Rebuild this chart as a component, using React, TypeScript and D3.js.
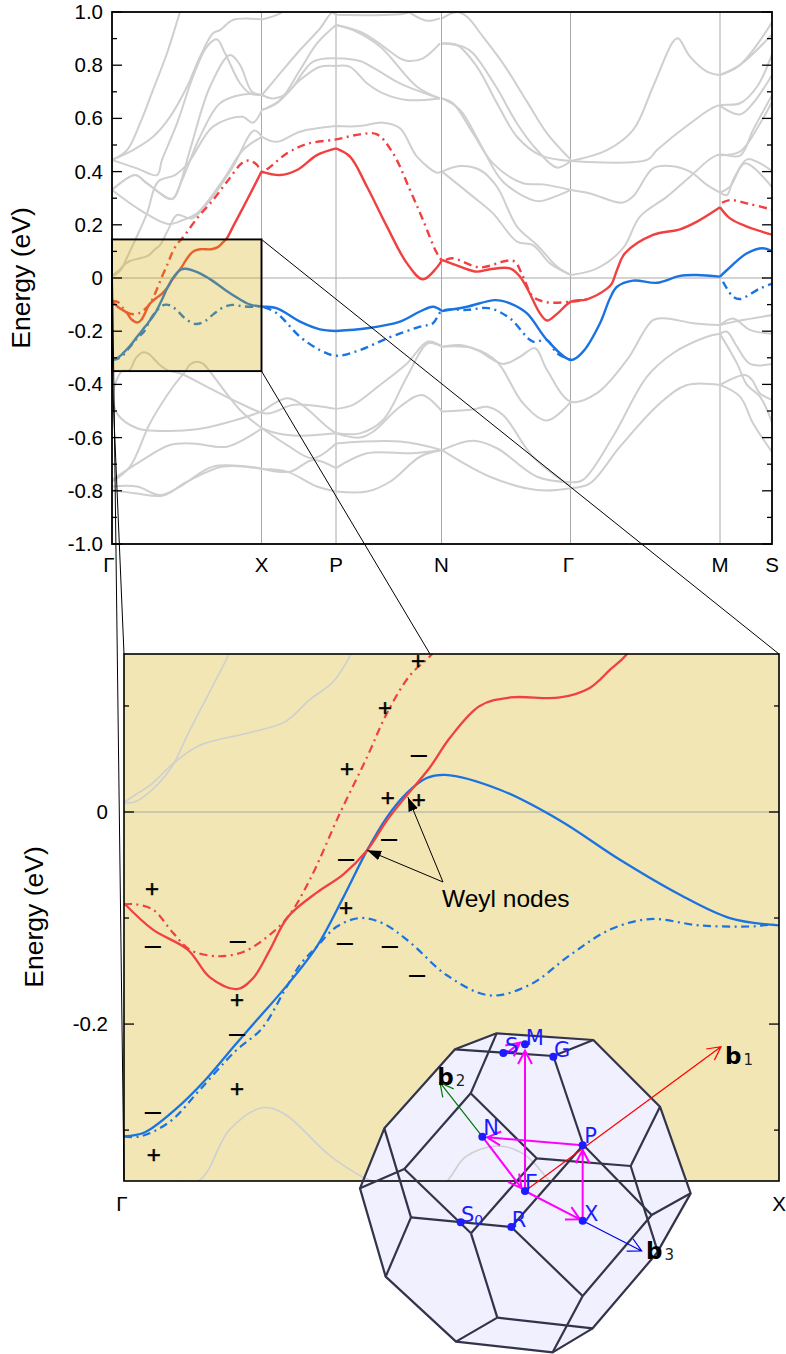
import React from "react";
import * as d3 from "d3";

type P = [number, number];

// high-symmetry points along the k-path (path length units) and labels
const kLabels = ["Γ", "X", "P", "N", "Γ", "M", "S"];
const kTicks = [0, 149.5, 224, 329.5, 458.5, 608, 660];
const kinkK = [149.5, 224, 329.5, 608];
const majorE = [1, 0.8, 0.6, 0.4, 0.2, 0, -0.2, -0.4, -0.6, -0.8, -1];
const minorE = [0.9, 0.7, 0.5, 0.3, 0.1, -0.1, -0.3, -0.5, -0.7, -0.9];
const zoomMajorE = [0, -0.2];
const zoomMinorE = [0.1, -0.1, -0.3];

const gray01: P[] = [[0,.444],[15,.481],[28,.581],[41,.707],[55,.845],[68,1.0],[75,1.08]];
const gray02: P[] = [[0,.444],[21,.481],[41,.531],[58,.606],[75,.719],[88,.832],[101,.92],[108,.932],[121,.97],[150,.972],[168,.995],[180,1.03]];
const gray03: P[] = [[0,.444],[25,.412],[45,.387],[50,.444],[65,.581],[81,.757],[95,.87],[105,.897],[113,.845],[128,.732],[138,.694],[150,.688],[161,.675],[175,.694],[201,.813],[224,.826],[248,.816],[265,.782],[288,.732],[328,.675]];
const gray04: P[] = [[0,.331],[23,.387],[35,.356],[60,.297],[66,.331],[78,.481],[98,.719],[118,.838],[128,.801],[140,.7],[150,.688],[168,.769],[188,.857],[208,.938],[220,.997],[224,.99],[271,.989],[296,.997],[310,1.03]];
const gray05: P[] = [[0,.009],[2,.009],[5,.016],[10.5,.04],[15,.077],[24,.149],[35,.243],[46,.362],[63,.387],[76,.431],[101,.569],[130,.606],[141,.584],[150,.632],[165,.657],[188,.744],[208,.794],[224,.797],[238,.794],[255,.732],[271,.694],[295,.669],[328,.675]];
const gray06: P[] = [[150,.632],[168,.669],[188,.782],[205,.882],[224,.951],[248,.926],[265,.888],[288,.826],[296,.816],[311,.826],[328,.882]];
const gray07: P[] = [[224,.951],[241,.932],[268,.87],[305,.719],[328,.675]];
const gray08: P[] = [[298,.997],[315,.967],[328,.976]];
const gray09: P[] = [[0,.009],[2.5,.016],[5.9,.025],[11.6,.047],[17.3,.063],[28.8,.075],[36.7,.085],[42.4,.106],[48,.124],[56,.18],[65,.237],[80,.224],[98,.293],[121,.419],[142,.554],[150,.531],[165,.512],[188,.55],[224,.571],[248,.571],[271,.584],[288,.563],[305,.456],[325,.396],[329,.4]];
const gray10: P[] = [[0,.331],[31,.249],[56,.203],[71,.218],[85,.243],[111,.368],[131,.481],[150,.531]];
const gray11: P[] = [[0,.331],[23,.387],[35,.356],[60,.297],[70,.368],[88,.531],[108,.657],[131,.69],[150,.688]];
const gray12: P[] = [[330,.976],[345,1.0],[355,.982],[371,.907],[391,.807],[415,.663],[435,.544],[459,.444]];
const gray13: P[] = [[330,.882],[345,.876],[365,.794],[385,.657],[405,.531],[428,.462],[459,.44]];
const gray14: P[] = [[330,.882],[351,.87],[361,.845],[385,.713],[405,.581],[425,.481],[445,.415],[459,.44]];
const gray15: P[] = [[330,.675],[341,.657],[361,.544],[381,.431],[411,.356],[431,.352],[459,.331]];
const gray16: P[] = [[330,.675],[348,.632],[368,.506],[391,.362],[425,.289],[438,.299],[459,.331]];
const gray17: P[] = [[330,.4],[348,.421],[368,.406],[385,.343],[405,.193],[425,.124],[445,.043],[459,.011]];
const gray18: P[] = [[330,.4],[361,.306],[381,.243],[405,.137],[421,.124],[438,.055],[459,.011]];
const gray19: P[] = [[459,.011],[485,.036],[511,.112],[528,.231],[555,.306],[578,.381],[605,.462],[628,.46],[641,.556],[661,.694]];
const gray20: P[] = [[459,.44],[535,.444],[545,.481],[578,.581],[605,.647],[628,.657],[645,.719],[661,.851]];
const gray21: P[] = [[459,.44],[495,.481],[521,.556],[541,.719],[561,.888],[566,.901],[578,.832],[595,.776],[608,.763],[628,.801],[661,.92]];
const gray22: P[] = [[608,.763],[628,.801],[661,.967]];
const gray23: P[] = [[459,.331],[478,.318],[510,.283],[521,.306],[541,.412],[558,.421],[578,.4],[595,.35],[608,.321],[618,.343],[633,.431],[661,.337]];
const gray24: P[] = [[608,.321],[615,.312],[621,.368],[635,.446],[645,.437],[661,.4]];
const gray25: P[] = [[608,.647],[628,.615],[641,.657],[661,.769]];
const gray26: P[] = [[605,.462],[628,.475],[648,.581],[661,.669]];
const gray27: P[] = [[0,-.46],[3,-.4],[10,-.35],[17.3,-.347],[24,-.3],[31.5,-.279],[36.7,-.285],[47,-.324],[56,-.347],[68,-.358],[98,-.415],[128,-.471],[155,-.509],[181,-.477],[205,-.481],[224,-.492],[241,-.477],[268,-.402],[295,-.321],[316,-.239],[330,-.258],[348,-.252],[365,-.271],[391,-.323],[408,-.296],[423,-.264],[435,-.346],[459,-.465],[485,-.433],[515,-.308],[541,-.158],[555,-.152],[581,-.17],[608,-.177],[621,-.152],[638,-.195],[661,-.21]];
const gray28: P[] = [[608,-.177],[628,-.16],[661,-.139]];
const gray29: P[] = [[0,-.421],[5,-.509],[25,-.565],[48,-.575],[85,-.569],[121,-.537],[150,-.502],[175,-.452],[188,-.471],[215,-.559],[224,-.584],[248,-.6],[261,-.578],[288,-.484],[310,-.44],[330,-.502],[361,-.494],[375,-.484],[391,-.515],[421,-.672],[459,-.784]];
const gray30: P[] = [[0,-.766],[18,-.709],[38,-.546],[61,-.409],[74,-.347],[78,-.325],[85,-.315],[91,-.322],[98,-.352],[128,-.496],[150,-.565],[175,-.628],[201,-.678],[224,-.622],[288,-.615],[330,-.647],[361,-.612],[385,-.64],[425,-.747],[459,-.768]];
const gray31: P[] = [[0,-.759],[28,-.69],[58,-.628],[81,-.622],[115,-.634],[150,-.565],[165,-.584],[188,-.593],[224,-.584],[248,-.584],[271,-.534],[295,-.371],[316,-.246],[330,-.258],[361,-.264],[385,-.315],[411,-.471],[435,-.536],[459,-.465]];
const gray32: P[] = [[0,-.784],[25,-.784],[48,-.816],[68,-.784],[101,-.709],[148,-.715],[178,-.728],[201,-.684],[224,-.715],[255,-.659],[301,-.659],[330,-.647],[378,-.747],[425,-.797],[459,-.79]];
const gray33: P[] = [[0,-.797],[25,-.81],[51,-.818],[75,-.766],[111,-.709],[150,-.718],[175,-.728],[205,-.784],[224,-.803],[255,-.803],[278,-.766],[308,-.672],[330,-.647]];
const gray34: P[] = [[459,-.768],[471,-.759],[501,-.596],[535,-.371],[561,-.283],[595,-.221],[608,-.21],[615,-.202],[625,-.258],[638,-.323],[661,-.323]];
const gray35: P[] = [[459,-.79],[478,-.772],[508,-.634],[548,-.471],[575,-.402],[608,-.402],[633,-.365],[640,-.383],[648,-.434],[661,-.459]];
const gray36: P[] = [[608,-.21],[625,-.321],[635,-.402],[648,-.446],[661,-.553]];
const gray37: P[] = [[608,-.402],[628,-.446],[641,-.546],[661,-.659]];
const grayBands = [gray01,gray02,gray03,gray04,gray05,gray06,gray07,gray08,gray09,gray10,gray11,gray12,gray13,gray14,gray15,gray16,gray17,gray18,gray19,gray20,gray21,gray22,gray23,gray24,gray25,gray26,gray27,gray28,gray29,gray30,gray31,gray32,gray33,gray34,gray35,gray36,gray37];

const redSolid: P[] = [[0,-.086],[6.6,-.111],[14.6,-.13],[19.6,-.156],[25.8,-.167],[29.4,-.157],[33.3,-.13],[37.4,-.099],[44,-.076],[50,-.059],[55.5,-.036],[60,-.008],[64.6,.016],[69.8,.042],[74.4,.07],[81.2,.1],[88.1,.108],[99.5,.108],[106.3,.117],[110.9,.134],[114.8,.149],[121,.193],[135,.293],[149.5,.4],[168,.387],[185,.406],[205,.462],[224,.487],[238,.456],[255,.343],[275,.193],[295,.055],[311,-.005],[328,.055],[330,.068],[348,.043],[365,.024],[378,.033],[398,.036],[408,.005],[416,-.045],[428,-.133],[435,-.16],[445,-.135],[459,-.089],[475,-.08],[495,-.04],[500,-.02],[505,.03],[513,.093],[541,.162],[568,.183],[585,.212],[608,.266],[618,.224],[635,.193],[661,.162]];
const redDash: P[] = [[0,-.087],[2.5,-.087],[6.6,-.092],[11.2,-.114],[15.1,-.13],[21.2,-.136],[27.2,-.132],[32.6,-.118],[37.4,-.099],[42.4,-.064],[49.3,-.001],[55.5,.052],[60,.093],[65.3,.129],[70.1,.148],[85,.224],[101,.293],[115,.362],[131,.435],[138,.441],[145,.425],[149.5,.4],[175,.469],[195,.504],[224,.521],[248,.54],[265,.54],[281,.469],[298,.331],[311,.218],[325,.093],[330,.068],[341,.074],[368,.04],[395,.065],[403,.061],[411,.005],[421,-.07],[435,-.091],[459,-.089],[475,-.08]];
const redDashEnd: P[] = [[610,.283],[618,.293],[638,.278],[661,.256]];
const blueSolid: P[] = [[0,-.306],[4.8,-.302],[11.6,-.281],[18.5,-.253],[25.3,-.22],[31,-.193],[36.3,-.168],[44,-.127],[50,-.081],[55.5,-.036],[60,-.005],[64.6,.018],[69.1,.032],[73.3,.035],[85.8,.021],[99.5,-.008],[113.2,-.045],[126.9,-.078],[138.3,-.1],[149.5,-.107],[165,-.114],[188,-.164],[208,-.193],[224,-.199],[255,-.189],[288,-.164],[308,-.126],[321,-.108],[330,-.124],[355,-.108],[383,-.083],[398,-.095],[415,-.133],[435,-.233],[459,-.308],[471,-.277],[488,-.17],[498,-.076],[505,-.033],[521,-.01],[545,-.018],[568,.008],[585,.011],[608,.005],[615,.03],[635,.093],[651,.112],[661,.099]];
const blueDash: P[] = [[0,-.306],[3.7,-.306],[10.5,-.292],[17.3,-.262],[25.3,-.226],[31.5,-.204],[36.7,-.168],[40.2,-.144],[44,-.127],[48.6,-.108],[53.9,-.1],[59.1,-.105],[65.3,-.123],[73.7,-.154],[83.5,-.173],[92.6,-.163],[101.8,-.135],[110.9,-.111],[120,-.101],[131.4,-.107],[142.9,-.108],[149.5,-.107],[165,-.133],[188,-.221],[208,-.271],[224,-.292],[248,-.271],[275,-.227],[308,-.183],[321,-.17],[330,-.124],[355,-.12],[378,-.114],[398,-.152],[421,-.239],[435,-.233],[445,-.283],[459,-.308]];
const blueDashEnd: P[] = [[611,-.014],[621,-.07],[628,-.079],[648,-.039],[661,-.02]];

// band parity signs at the zoomed panel
const plusSigns: P[] = [[67.1,.143],[59.6,.099],[50.9,.041],[60.2,.014],[67.3,.012],[6.4,-.072],[50.7,-.09],[25.8,-.177],[25.8,-.261],[6.8,-.323]];
const minusSigns: P[] = [[67.3,.054],[60.5,-.025],[50.7,-.044],[6.6,-.126],[26,-.122],[50.4,-.124],[60.7,-.126],[66.9,-.154],[25.8,-.209],[6.6,-.283]];
const weylNodes: P[] = [[55.5,-.036],[64.8,.014]];

// Brillouin zone schematic, in its own drawing units
const bzOutline: P[] = [[440,40],[730,60],[930,260],[1022,520],[920,700],[728,925],[608,997],[318,965],[107,770],[30,505],[103,325],[315,88]];
const bzEdges: P[][] = [
  [[315,88],[610,108],[730,60]],[[610,108],[700,375]],[[440,40],[362,220]],
  [[362,220],[163,447]],[[362,220],[560,415],[842,438]],[[842,438],[930,260]],
  [[842,438],[925,700]],[[905,585],[1022,520]],[[700,375],[905,585]],[[700,375],[484,621]],
  [[560,415],[363,640]],[[905,585],[698,828]],[[698,828],[484,621]],[[484,621],[183,592]],
  [[103,325],[183,592]],[[183,592],[107,770]],[[163,447],[30,505]],[[163,447],[363,640]],
  [[363,640],[442,893]],[[442,893],[318,965]],[[442,893],[728,925]],[[698,828],[608,997]],
];
const bzPathArrows: [P, P][] = [[[525,513],[525,92]],[[698,376],[412,352]],[[397,350],[515,505]],[[525,513],[690,598]],[[698,602],[698,390]],[[472,98],[510,68]]];
const bzDots: P[] = [[525,513],[698,376],[397,350],[698,602],[484,621],[332,607],[460,99],[525,73],[610,110]];
const bzLabels: { t: string; sub?: string; x: number; y: number }[] = [
  { t: "N", x: 400, y: 345 }, { t: "P", x: 703, y: 368 }, { t: "Γ", x: 525, y: 510 }, { t: "X", x: 702, y: 603 },
  { t: "R", x: 485, y: 622 }, { t: "S", sub: "0", x: 333, y: 607 }, { t: "S", x: 465, y: 100 }, { t: "M", x: 527, y: 74 }, { t: "G", x: 612, y: 110 },
];
const bzVectors: { from: P; to: P; color: string; sub: string; lx: number; ly: number }[] = [
  { from: [525,513], to: [1113,80], color: "#ff0000", sub: "1", lx: 1125, ly: 115 },
  { from: [397,350], to: [270,188], color: "#007a00", sub: "2", lx: 262, ly: 178 },
  { from: [698,602], to: [875,693], color: "#0000e6", sub: "3", lx: 888, ly: 698 },
];

const FONT = "'Liberation Sans', Arial, sans-serif";
const GRAY = "#cfcfcf";
const RED = "#f04040";
const BLUE = "#1a73e0";
const SAND = "#f2e6b4";
const MAGENTA = "#ff00ff";

const xTop = d3.scaleLinear().domain([0, 660]).range([112, 772]);
const yTop = d3.scaleLinear().domain([-1, 1]).range([544, 12]);
const xZoom = d3.scaleLinear().domain([0, 149.5]).range([124, 779]);
const yZoom = d3.scaleLinear().domain([-0.348, 0.149]).range([1181, 654]);
const xBz = d3.scaleLinear().domain([0, 1080]).range([350, 710]);
const yBz = d3.scaleLinear().domain([0, 1002]).range([1020, 1354]);

// bands have cusps at some zone boundaries, so each stretch is smoothed on its own
function splitAtKinks(band: P[]): P[][] {
  const out: P[][] = [];
  let cur: P[] = [];
  band.forEach(p => {
    cur.push(p);
    if (kinkK.some(k => Math.abs(p[0] - k) <= 1.6) && cur.length > 1) {
      out.push(cur);
      cur = [p];
    }
  });
  if (cur.length > 1) out.push(cur);
  return out;
}

function Vee({ from, to, color, w, size }: { from: P; to: P; color: string; w: number; size: number }) {
  const x1 = xBz(from[0]), y1 = yBz(from[1]), x2 = xBz(to[0]), y2 = yBz(to[1]);
  const a = Math.atan2(y2 - y1, x2 - x1);
  const s = 0.48;
  const hx = (t: number) => x2 - size * Math.cos(a + t);
  const hy = (t: number) => y2 - size * Math.sin(a + t);
  return (
    <path fill="none" stroke={color} strokeWidth={w}
      d={`M${x1},${y1}L${x2},${y2}M${hx(s)},${hy(s)}L${x2},${y2}L${hx(-s)},${hy(-s)}`} />
  );
}

const fmt = (e: number) => (e === 0 ? "0" : e.toFixed(1));

export default function App() {
  const curve = d3.curveCatmullRom.alpha(0.5);
  const tl = d3.line<P>().x(d => xTop(d[0])).y(d => yTop(d[1])).curve(curve);
  const zl = d3.line<P>().x(d => xZoom(d[0])).y(d => yZoom(d[1])).curve(curve);
  const topLine = (b: P[]) => splitAtKinks(b).map(s => tl(s)!).join("");
  const zoomLine = (b: P[]) => splitAtKinks(b).map(s => zl(s)!).join("");
  const bzLine = d3.line<P>().x(d => xBz(d[0])).y(d => yBz(d[1]));
  const dash = "8 4.5 2 4.5";
  const [kBoxEnd, boxTop, boxBottom] = [149.5, 0.145, -0.35];
  const bx = xTop(kBoxEnd), by0 = yTop(boxTop), by1 = yTop(boxBottom);

  return (
    <svg width={786} height={1354} style={{ position: "absolute", left: 0, top: 0 }} fontFamily={FONT}>
      <defs>
        <clipPath id="cTop"><rect x={112} y={12} width={660} height={532} /></clipPath>
        <clipPath id="cZoom"><rect x={124} y={654} width={655} height={527} /></clipPath>
        <marker id="weyl" viewBox="0 0 14 10" refX="14" refY="5" markerWidth="14" markerHeight="10" markerUnits="userSpaceOnUse" orient="auto">
          <path d="M0,0L14,5L0,10Z" fill="#000" />
        </marker>
      </defs>
      <rect width={786} height={1354} fill="#fff" />

      {/* ---------- upper panel ---------- */}
      {kTicks.slice(1, -1).map((k, i) => (
        <line key={i} x1={xTop(k)} x2={xTop(k)} y1={12} y2={544} stroke="#a8a8a8" strokeWidth={1} />
      ))}
      <line x1={112} x2={772} y1={yTop(0)} y2={yTop(0)} stroke="#a8a8a8" strokeWidth={1} />
      <g clipPath="url(#cTop)" fill="none" strokeLinejoin="round">
        {grayBands.map((b, i) => <path key={i} d={topLine(b)} stroke={GRAY} strokeWidth={2} />)}
        <path d={tl(redDash)!} stroke={RED} strokeWidth={2.4} strokeDasharray={dash} />
        <path d={tl(redDashEnd)!} stroke={RED} strokeWidth={2.4} strokeDasharray={dash} />
        <path d={topLine(redSolid)} stroke={RED} strokeWidth={2.4} />
        <path d={tl(blueDash)!} stroke={BLUE} strokeWidth={2.4} strokeDasharray={dash} />
        <path d={tl(blueDashEnd)!} stroke={BLUE} strokeWidth={2.4} strokeDasharray={dash} />
        <path d={topLine(blueSolid)} stroke={BLUE} strokeWidth={2.4} />
      </g>
      {/* highlighted window */}
      <rect x={112} y={by0} width={bx - 112} height={by1 - by0} fill="#d4ac05" fillOpacity={0.3} stroke="#000" strokeWidth={1.9} />
      <rect x={112} y={12} width={660} height={532} fill="none" stroke="#000" strokeWidth={1.8} />
      {majorE.map(e => (
        <g key={e} stroke="#000" strokeWidth={1.3}>
          <line x1={112} x2={122} y1={yTop(e)} y2={yTop(e)} />
          <line x1={762} x2={772} y1={yTop(e)} y2={yTop(e)} />
        </g>
      ))}
      {minorE.map(e => (
        <g key={e} stroke="#000" strokeWidth={1.3}>
          <line x1={112} x2={117} y1={yTop(e)} y2={yTop(e)} />
          <line x1={767} x2={772} y1={yTop(e)} y2={yTop(e)} />
        </g>
      ))}
      {majorE.map(e => (
        <text key={e} x={103} y={yTop(e) + 7} textAnchor="end" fontSize={20.5}>{fmt(e)}</text>
      ))}
      {kLabels.map((l, i) => (
        <text key={i} x={xTop(kTicks[i]) + (i === 0 ? -3 : i === 4 ? -2 : 0)} y={572} textAnchor="middle" fontSize={20.5}>{l}</text>
      ))}
      <text transform="translate(30,278) rotate(-90)" textAnchor="middle" fontSize={26.5}>Energy (eV)</text>

      {/* ---------- zoomed panel ---------- */}
      <rect x={124} y={654} width={655} height={527} fill={SAND} />
      <path d={bzLine(bzOutline)! + "Z"} fill="#f0f0ff" />
      <line x1={124} x2={779} y1={yZoom(0)} y2={yZoom(0)} stroke="#a8a8a8" strokeWidth={1.2} />
      <g clipPath="url(#cZoom)" fill="none">
        {grayBands.map((b, i) => <path key={i} d={zoomLine(b)} stroke={GRAY} strokeWidth={1.6} />)}
        <path d={zl(redDash)!} stroke={RED} strokeWidth={2.2} strokeDasharray={dash} />
        <path d={zl(blueDash)!} stroke={BLUE} strokeWidth={2.2} strokeDasharray={dash} />
        <path d={zoomLine(blueSolid)} stroke={BLUE} strokeWidth={2.3} />
        <path d={zoomLine(redSolid)} stroke={RED} strokeWidth={2.3} />
      </g>
      <rect x={124} y={654} width={655} height={527} fill="none" stroke="#000" strokeWidth={1.6} />
      {zoomMajorE.map(e => (
        <g key={e} stroke="#000" strokeWidth={1.3}>
          <line x1={124} x2={134} y1={yZoom(e)} y2={yZoom(e)} />
          <line x1={769} x2={779} y1={yZoom(e)} y2={yZoom(e)} />
        </g>
      ))}
      {zoomMinorE.map(e => (
        <g key={e} stroke="#000" strokeWidth={1.3}>
          <line x1={124} x2={129} y1={yZoom(e)} y2={yZoom(e)} />
          <line x1={774} x2={779} y1={yZoom(e)} y2={yZoom(e)} />
        </g>
      ))}
      {zoomMajorE.map(e => (
        <text key={e} x={108} y={yZoom(e) + 7} textAnchor="end" fontSize={20.5}>{fmt(e)}</text>
      ))}
      <text x={122} y={1211} textAnchor="middle" fontSize={20.5}>{kLabels[0]}</text>
      <text x={779} y={1211} textAnchor="middle" fontSize={20.5}>{kLabels[1]}</text>
      <text transform="translate(43,917) rotate(-90)" textAnchor="middle" fontSize={26.5}>Energy (eV)</text>
      {plusSigns.map((p, i) => <text key={i} x={xZoom(p[0])} y={yZoom(p[1]) + 8.5} textAnchor="middle" fontSize={24} stroke="#000" strokeWidth={0.5}>+</text>)}
      {minusSigns.map((p, i) => <text key={i} x={xZoom(p[0])} y={yZoom(p[1]) + 9} textAnchor="middle" fontSize={29}>–</text>)}
      {weylNodes.map((p, i) => (
        <line key={i} x1={443} y1={882} x2={xZoom(p[0])} y2={yZoom(p[1])} stroke="#000" strokeWidth={1} markerEnd="url(#weyl)" />
      ))}
      <text x={442} y={907} fontSize={24.5}>Weyl nodes</text>

      {/* connectors from the window to the zoomed panel */}
      <g stroke="#000" strokeWidth={1} fill="none">
        <line x1={bx} y1={by0} x2={779} y2={654} />
        <line x1={bx} y1={by1} x2={430} y2={654} />
        <line x1={112} y1={by0} x2={124} y2={1181} />
        <line x1={112} y1={by1} x2={124} y2={654} />
      </g>

      {/* Brillouin zone */}
      <g fill="none" stroke="#33334a" strokeWidth={2.2} strokeLinejoin="round">
        <path d={bzLine(bzOutline)! + "Z"} />
        {bzEdges.map((e, i) => <path key={i} d={bzLine(e)!} />)}
      </g>
      {bzVectors.map((v, i) => <Vee key={i} from={v.from} to={v.to} color={v.color} w={1.2} size={15} />)}
      {bzPathArrows.map((a, i) => <Vee key={i} from={a[0]} to={a[1]} color={MAGENTA} w={2} size={15} />)}
      {bzDots.map((d, i) => <circle key={i} cx={xBz(d[0])} cy={yBz(d[1])} r={4} fill="#1c1cff" />)}
      <g fontFamily="'DejaVu Sans', sans-serif" fill="#1c1cff" fontSize={21}>
        {bzLabels.map((l, i) => (
          <text key={i} x={xBz(l.x)} y={yBz(l.y)}>
            {l.t}{l.sub ? <tspan fontSize={14} dy={3}>{l.sub}</tspan> : null}
          </text>
        ))}
      </g>
      <g fontFamily="'DejaVu Sans', sans-serif">
        {bzVectors.map((v, i) => (
          <text key={i} x={xBz(v.lx)} y={yBz(v.ly) + 6} fontSize={23} fontWeight="bold">
            b<tspan fontSize={15} fontWeight="normal" fill="#222" dx={2} dy={1}>{v.sub}</tspan>
          </text>
        ))}
      </g>
    </svg>
  );
}
